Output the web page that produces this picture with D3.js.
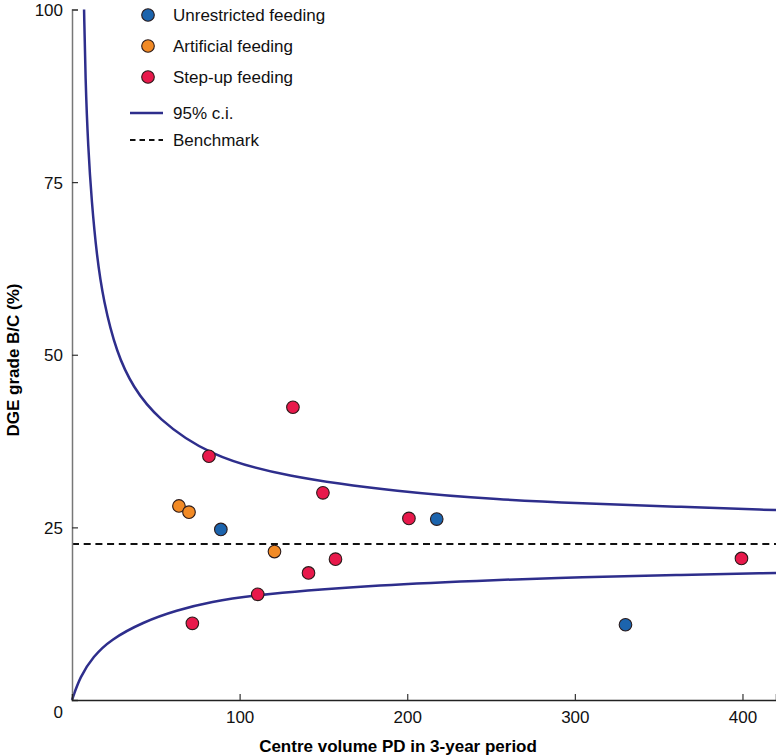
<!DOCTYPE html>
<html>
<head>
<meta charset="utf-8">
<script src="https://cdn.jsdelivr.net/npm/d3@7"></script>
<style>
  body { margin: 0; background: #fff; }
  svg { font-family: "Liberation Sans", Arial, sans-serif; }
</style>
</head>
<body>
<div class="d3-chart"></div>
<script>
const groups = ["Unrestricted feeding", "Artificial feeding", "Step-up feeding"];
const groupColors = ["#1c64ad", "#f28a25", "#e8194b"];

// centre volume, grade B/C %
const unrestricted = [[88.8, 24.7], [217.6, 26.2], [330.2, 10.9]];
const artificial = [[63.8, 28.1], [69.8, 27.2], [120.8, 21.5]];
const stepUp = [
  [131.8, 42.4], [81.7, 35.3], [149.7, 30.0], [201, 26.3], [399.4, 20.5],
  [157.2, 20.4], [141.1, 18.4], [110.8, 15.3], [71.8, 11.1]
];

const benchmark = 22.6;

// 95% c.i. limits
const upperCI = [
  [7.2, 100], [8.0, 90], [9.6, 80], [11.8, 72], [14.7, 64.5], [18.7, 57.8],
  [26.7, 50.2], [36.4, 45.3], [50.6, 40.8], [81.7, 35.4], [126, 32.4],
  [195.8, 30.1], [255.5, 29.0], [303, 28.5], [360, 28.0], [420, 27.5]
];
const lowerCI = [
  [0, 0], [4.8, 3.4], [12.7, 6.3], [22.7, 8.7], [42.4, 11.3], [62.5, 13.0],
  [82.4, 14.2], [110.9, 15.3], [184, 16.7], [255.5, 17.4], [303, 17.8],
  [360, 18.1], [420, 18.4]
];

const xTicks = [100, 200, 300, 400];
const yTicks = [0, 25, 50, 75, 100];

const width = 776, height = 756;
const x = d3.scaleLinear().domain([0, 420]).range([72, 776]);
const y = d3.scaleLinear().domain([0, 100]).range([700, 9.5]);

const svg = d3.select(".d3-chart")
  .append("svg")
  .attr("width", width)
  .attr("height", height);

// benchmark
svg.append("line")
  .attr("x1", x(0)).attr("x2", x(420))
  .attr("y1", y(benchmark)).attr("y2", y(benchmark))
  .attr("stroke", "#111")
  .attr("stroke-width", 2)
  .attr("stroke-dasharray", "7,4.7");

// funnel limits
const line = d3.line()
  .x(d => x(d[0]))
  .y(d => y(d[1]))
  .curve(d3.curveBasis);

svg.append("g")
  .attr("fill", "none")
  .attr("stroke", "#2e2e8c")
  .attr("stroke-width", 2.5)
  .selectAll("path")
  .data([upperCI, lowerCI])
  .join("path")
  .attr("d", line);

// axes
const yAxis = svg.append("g")
  .attr("transform", `translate(${x(0)},0)`)
  .call(d3.axisLeft(y).tickValues(yTicks).tickSize(-6).tickPadding(9));
yAxis.select(".domain").attr("stroke", "#777").attr("stroke-width", 1.5);
yAxis.selectAll(".tick line").attr("stroke", "#333").attr("stroke-width", 1.2);
yAxis.selectAll(".tick text")
  .attr("font-size", 17)
  .attr("fill", "#111")
  .attr("dy", d => d === 0 ? "1.0em" : "0.35em");

const xAxis = svg.append("g")
  .attr("transform", `translate(0,${y(0)})`)
  .call(d3.axisBottom(x).tickValues(xTicks).tickSize(-6).tickPadding(11));
xAxis.select(".domain").attr("stroke", "#222").attr("stroke-width", 1.5);
xAxis.selectAll(".tick line").attr("stroke", "#333").attr("stroke-width", 1.2);
xAxis.selectAll(".tick text").attr("font-size", 17).attr("fill", "#111");

svg.append("text")
  .attr("x", 398)
  .attr("y", 752)
  .attr("text-anchor", "middle")
  .attr("font-size", 17)
  .attr("font-weight", "bold")
  .text("Centre volume PD in 3-year period");

svg.append("text")
  .attr("transform", "translate(19,360) rotate(-90)")
  .attr("text-anchor", "middle")
  .attr("font-size", 17)
  .attr("font-weight", "bold")
  .text("DGE grade B/C (%)");

// points
const allPoints = [unrestricted, artificial, stepUp]
  .flatMap((arr, i) => arr.map(d => ({n: d[0], v: d[1], g: i})));

svg.append("g")
  .selectAll("circle")
  .data(allPoints)
  .join("circle")
  .attr("cx", d => x(d.n))
  .attr("cy", d => y(d.v))
  .attr("r", 6.3)
  .attr("fill", d => groupColors[d.g])
  .attr("stroke", "#2a1a1a")
  .attr("stroke-width", 1.1);

// legend
const legend = svg.append("g");
const legendY = [15, 46, 77];
groups.forEach((g, i) => {
  legend.append("circle")
    .attr("cx", 148).attr("cy", legendY[i])
    .attr("r", 6.3)
    .attr("fill", groupColors[i])
    .attr("stroke", "#2a1a1a")
    .attr("stroke-width", 1.1);
  legend.append("text")
    .attr("x", 173).attr("y", legendY[i] + 6)
    .attr("font-size", 17)
    .attr("fill", "#111")
    .text(g);
});

legend.append("line")
  .attr("x1", 130).attr("x2", 163).attr("y1", 113).attr("y2", 113)
  .attr("stroke", "#2e2e8c").attr("stroke-width", 2.5);
legend.append("text")
  .attr("x", 173).attr("y", 119)
  .attr("font-size", 17).attr("fill", "#111")
  .text("95% c.i.");

legend.append("line")
  .attr("x1", 130).attr("x2", 163).attr("y1", 140).attr("y2", 140)
  .attr("stroke", "#111").attr("stroke-width", 2)
  .attr("stroke-dasharray", "5.5,4");
legend.append("text")
  .attr("x", 173).attr("y", 146)
  .attr("font-size", 17).attr("fill", "#111")
  .text("Benchmark");
</script>
</body>
</html>
